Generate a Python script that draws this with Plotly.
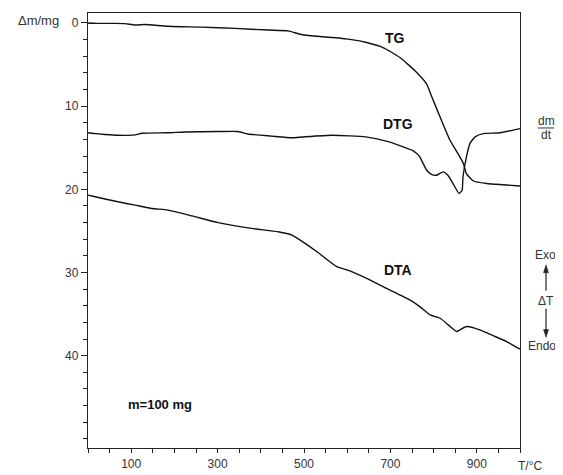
import plotly.graph_objects as go

# ---- data ----
tg_T = [0, 16, 60, 86, 109, 132, 185, 263, 340, 417, 463, 491, 530, 567, 610, 645, 683, 722, 761, 784,
        796, 815, 838, 854, 869, 876, 892, 923, 960, 1000]
tg_m = [0.0, 0.04, 0.05, 0.08, 0.25, 0.18, 0.4, 0.5, 0.65, 0.85, 0.95, 1.35, 1.6, 1.75, 2.0, 2.35, 2.95, 4.15, 5.95, 7.35,
        8.9, 11.3, 14.1, 15.5, 16.9, 18.1, 19.0, 19.3, 19.45, 19.6]

dtg_T = [0, 9, 39, 69, 109, 125, 185, 224, 301, 347, 370, 425, 472, 498, 566, 643, 697, 750, 761, 768,
         784, 795, 807, 822, 833, 845, 859, 866, 868, 876, 884, 896, 915, 954, 1000]
dtg_v = [13.2, 13.25, 13.4, 13.5, 13.45, 13.25, 13.2, 13.1, 13.05, 13.05, 13.35, 13.6, 13.8, 13.7, 13.5, 13.7, 14.3, 15.3, 15.7, 16.1,
         17.7, 18.2, 18.3, 17.9, 18.3, 19.3, 20.5, 20.1, 18.5, 16.1, 14.5, 13.7, 13.3, 13.2, 12.7]

dta_T = [0, 9, 69, 109, 148, 185, 241, 301, 379, 440, 472, 491, 530, 576, 606, 645, 691, 745, 768, 792,
         815, 834, 853, 861, 876, 907, 938, 969, 992, 1000]
dta_v = [20.7, 20.8, 21.5, 21.9, 22.3, 22.5, 23.2, 24.0, 24.7, 25.1, 25.5, 26.1, 27.5, 29.3, 29.8, 30.7, 31.9, 33.3, 34.1, 35.1,
         35.5, 36.3, 37.1, 36.9, 36.5, 36.9, 37.6, 38.3, 39.0, 39.2]

x_tickvals = [100, 300, 500, 700, 900]
y_tickvals = [0, 10, 20, 30, 40]

FONT = "Liberation Sans, Arial, sans-serif"
LINE = dict(color="#111111", width=1.4, shape="spline", smoothing=0.5)

fig = go.Figure()
for xs, ys in [(tg_T, tg_m), (dtg_T, dtg_v), (dta_T, dta_v)]:
    fig.add_trace(go.Scatter(x=xs, y=ys, mode="lines", line=LINE, showlegend=False, hoverinfo="skip"))

# page body has an 8px margin -> figure sits at (8, 8) in the window
OFF = 8
W, H = 563 - OFF, 475 - OFF
PL, PR, PT, PB = 88, 520, 12, 449          # plot area in window pixels
ml, mt = PL - OFF, PT - OFF
mr, mb = W + OFF - PR, H + OFF - PB
pw, ph = PR - PL, PB - PT


def px(x):
    return (x - PL) / pw


def py(y):
    return (PB - y) / ph


axis_common = dict(showline=True, linecolor="#222222", linewidth=1.3, mirror=True, showgrid=False,
                   zeroline=False, ticks="outside", tickcolor="#222222",
                   tickfont=dict(family=FONT, size=12, color="#333333"))

fig.update_xaxes(range=[0, 1000], tickvals=x_tickvals, ticklen=4, tickwidth=1,
                 minor=dict(dtick=50, tick0=0, ticks="outside", ticklen=4, tickcolor="#222222", tickwidth=1),
                 **axis_common)
fig.update_yaxes(range=[51.1, -1.2], tickvals=y_tickvals, ticklen=6, tickwidth=1,
                 minor=dict(dtick=2, tick0=0, ticks="outside", ticklen=4, tickcolor="#222222", tickwidth=1),
                 **axis_common)

ann = []
bold = dict(family=FONT, size=14, color="#111111")
for text, x, y in [("<b>TG</b>", 711, 1.8), ("<b>DTG</b>", 718, 12.1), ("<b>DTA</b>", 718, 29.7)]:
    ann.append(dict(x=x, y=y, xref="x", yref="y", text=text, showarrow=False, font=bold,
                    xanchor="center", yanchor="middle"))
ann.append(dict(x=167, y=45.9, xref="x", yref="y", text="<b>m=100 mg</b>", showarrow=False,
                font=dict(family=FONT, size=13, color="#111111"), xanchor="center", yanchor="middle"))

small = dict(family=FONT, size=12, color="#333333")
RX = 545  # centre of the right-hand side labels (kept inside the visible page)
for text, x, y, f in [("Δm/mg", 38, 20, dict(family=FONT, size=13, color="#333333")),
                      ("T/°C", 530, 467, small),
                      ("dm", RX + 1, 120, small),
                      ("dt", RX + 1, 135, small),
                      ("Exo", RX, 255, small),
                      ("ΔT", RX + 1, 301, small),
                      ("Endo", RX - 3, 347, small)]:
    ann.append(dict(x=px(x), y=py(y), xref="paper", yref="paper", text=text, showarrow=False, font=f,
                    xanchor="center", yanchor="middle"))

AX = RX + 1
shapes = [
    # fraction bar of dm/dt
    dict(type="line", xref="paper", yref="paper", x0=px(AX - 8), x1=px(AX + 8), y0=py(127.5), y1=py(127.5),
         line=dict(color="#333333", width=1)),
    # up arrow (Exo)
    dict(type="line", xref="paper", yref="paper", x0=px(AX), x1=px(AX), y0=py(291), y1=py(271),
         line=dict(color="#222222", width=1.2)),
    dict(type="path", xref="paper", yref="paper",
         path=f"M {px(AX)},{py(265)} L {px(AX - 2.5)},{py(273)} L {px(AX + 2.5)},{py(273)} Z",
         fillcolor="#222222", line=dict(color="#222222", width=0.5)),
    # down arrow (Endo)
    dict(type="line", xref="paper", yref="paper", x0=px(AX), x1=px(AX), y0=py(309), y1=py(332),
         line=dict(color="#222222", width=1.2)),
    dict(type="path", xref="paper", yref="paper",
         path=f"M {px(AX)},{py(338)} L {px(AX - 2.5)},{py(330)} L {px(AX + 2.5)},{py(330)} Z",
         fillcolor="#222222", line=dict(color="#222222", width=0.5)),
]

fig.update_layout(
    width=W, height=H,
    margin=dict(l=ml, r=mr, t=mt, b=mb, pad=0),
    paper_bgcolor="white", plot_bgcolor="white",
    annotations=ann,
    shapes=shapes,
)

fig.write_html("out.html")
